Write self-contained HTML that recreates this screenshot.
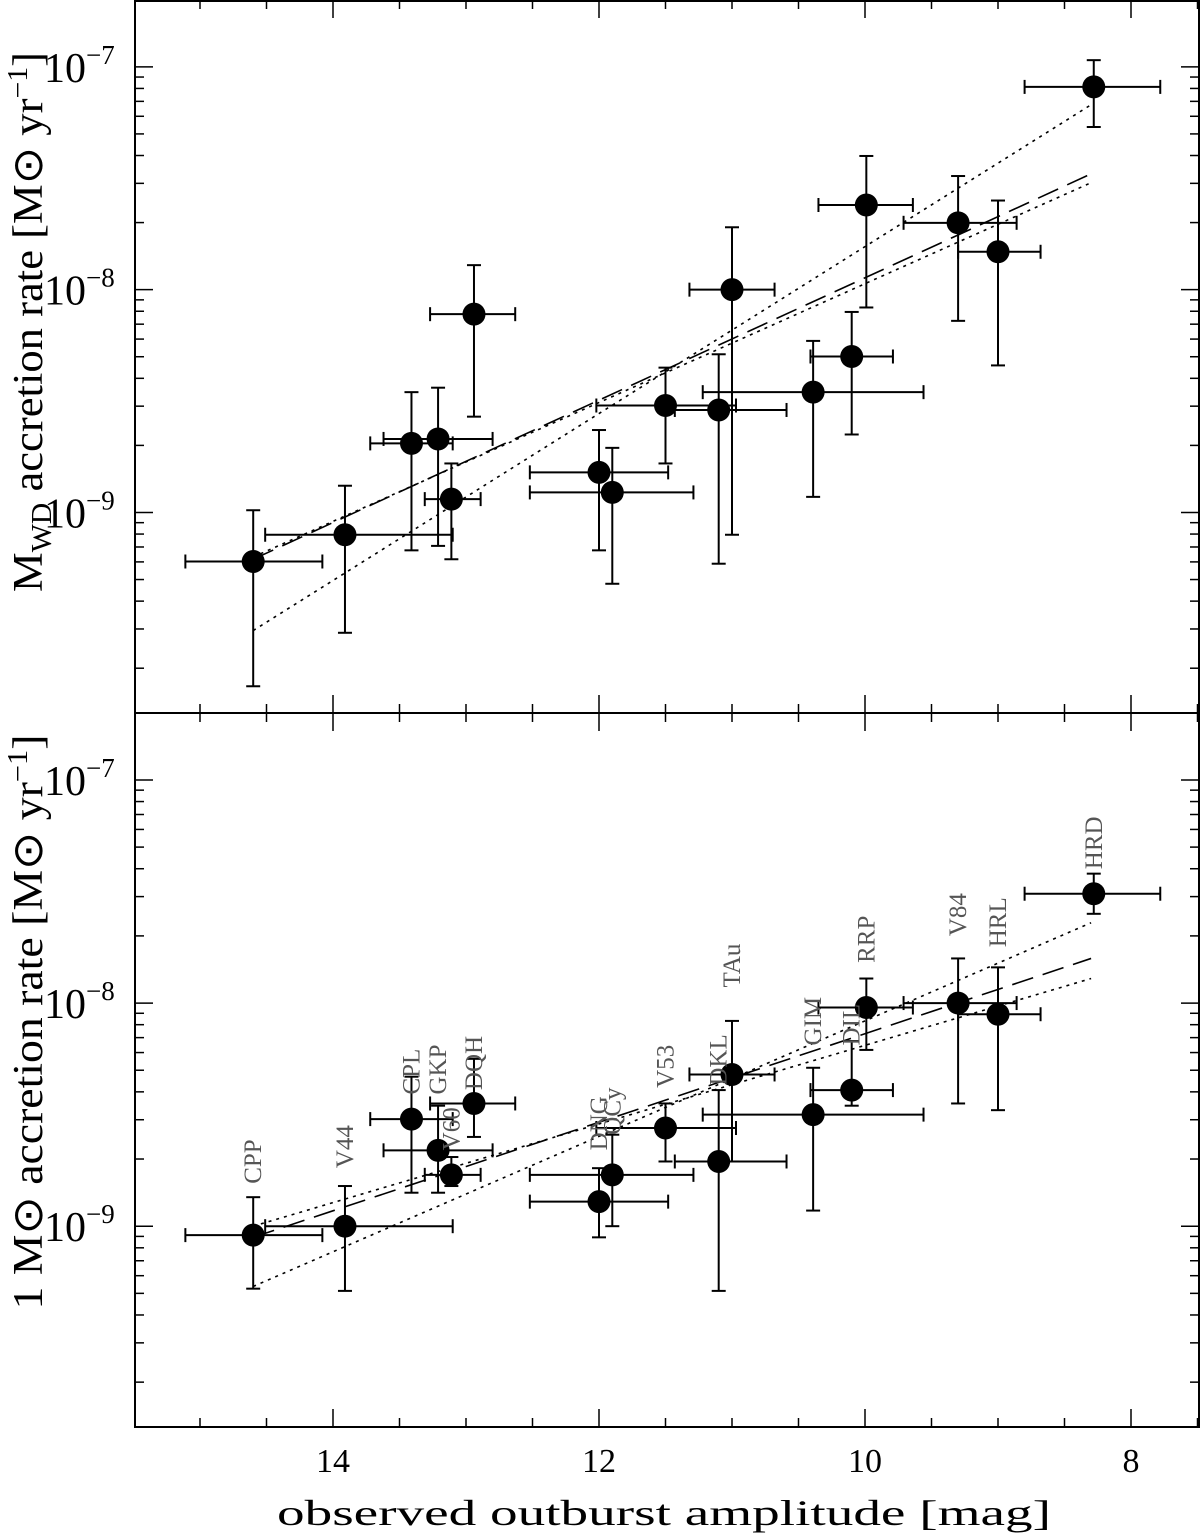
<!DOCTYPE html>
<html><head><meta charset="utf-8"><style>
html,body{margin:0;padding:0;background:#fff}
svg{display:block}
text{font-family:"Liberation Serif",serif}
</style></head><body>
<svg id="chart" width="1200" height="1537" viewBox="0 0 1200 1537" xmlns="http://www.w3.org/2000/svg"></svg>
<script>
// ---- data ----
const magTop=[14.6,13.91,13.41,13.21,13.11,12.94,12.0,11.9,11.5,11.1,11.0,10.39,10.1,9.99,9.3,9.0,8.28];
const magLo=[15.11,14.51,13.72,13.62,13.31,13.27,12.52,12.52,12.02,11.43,11.32,11.22,10.41,10.35,9.71,9.3,8.8];
const magHi=[14.08,13.10,13.10,12.80,12.89,12.63,11.48,11.29,10.97,10.59,10.68,9.56,9.79,9.64,8.86,8.68,7.78];
const logTop=[-9.22,-9.10,-8.69,-8.67,-8.94,-8.11,-8.82,-8.91,-8.52,-8.54,-8.00,-8.46,-8.30,-7.62,-7.70,-7.83,-7.09];
const logTopUp=[-8.99,-8.88,-8.46,-8.44,-8.78,-7.89,-8.63,-8.71,-8.35,-8.29,-7.72,-8.23,-8.10,-7.40,-7.49,-7.60,-6.97];
const logTopDn=[-9.78,-9.54,-9.17,-9.15,-9.21,-8.57,-9.17,-9.32,-8.78,-9.23,-9.10,-8.93,-8.65,-8.08,-8.14,-8.34,-7.27];
const names=["CPP","V44","CPL","GKP","V60","DQH","DNG","QCy","V53","DKL","TAu","GIM","DIL","RRP","V84","HRL","HRD"];
const magBot=[14.6,13.91,13.41,13.21,13.11,12.94,12.0,11.9,11.5,11.1,11.0,10.39,10.1,9.99,9.3,9.0,8.28];
const logBot=[-9.04,-9.00,-8.52,-8.66,-8.77,-8.45,-8.89,-8.77,-8.56,-8.71,-8.32,-8.50,-8.39,-8.02,-8.00,-8.05,-7.51];
const logBotUp=[-8.87,-8.82,-8.33,-8.46,-8.69,-8.25,-8.74,-8.59,-8.45,-8.39,-8.08,-8.29,-8.17,-7.89,-7.80,-7.84,-7.42];
const logBotDn=[-9.28,-9.29,-8.85,-8.85,-8.82,-8.60,-9.05,-9.00,-8.71,-9.29,-8.71,-8.93,-8.46,-8.21,-8.45,-8.48,-7.60];
const labelLog=[-8.81,-8.74,-8.41,-8.41,-8.66,-8.39,-8.66,-8.59,-8.38,-8.37,-7.93,-8.19,-8.19,-7.82,-7.70,-7.75,-7.40];
const fitX=[14.6,8.3];
const topDash=[-9.21,-7.48], topDot1=[-9.53,-7.17], topDot2=[-9.20,-7.52];
const botDash=[-9.05,-7.80], botDot1=[-9.27,-7.64], botDot2=[-9.00,-7.89];
const xTickLabels=[14,12,10,8];
const yTickExp=[-7,-8,-9];
// ---- axes ----
const X0=135,X1=1199;
function xs(m){return 1131+(8-m)*133;}
const panels=[{top:0,bot:713},{top:713,bot:1427}];
function ys(p,l){const P=panels[p];return P.top+(-6.7-l)/3.2*(P.bot-P.top);}
const svg=document.getElementById('chart');
const NS='http://www.w3.org/2000/svg';
function el(t,a,parent){const e=document.createElementNS(NS,t);for(const k in a)e.setAttribute(k,a[k]);(parent||svg).appendChild(e);return e;}
function line(x1,y1,x2,y2,extra){return el('line',Object.assign({x1,y1,x2,y2,stroke:'#000','stroke-width':2},extra||{}));}

let f=el('rect',{x:X0,y:1,width:X1-X0,height:1426,fill:'none',stroke:'#000','stroke-width':2});

let dv=line(X0,713,X1,713);


for(let p=0;p<2;p++){
  const P=panels[p];
  for(let m=15;m>=7.5;m-=0.5){
    const x=xs(m);if(x<X0||x>X1)continue;
    const major=(m%2===0);const L=major?18:9;
    let t1=line(x,P.top,x,P.top+L,{'stroke-width':1.5});
    
    let t2=line(x,P.bot,x,P.bot-L,{'stroke-width':1.5});
    
  }
  for(let d=-10;d<=-7;d++){
    for(let k=1;k<=9;k++){
      const l=d+Math.log10(k);const y=ys(p,l);
      if(y<P.top+2||y>P.bot-2)continue;
      const L=k===1?18:9;
      let t=line(X0,y,X0+L,y,{'stroke-width':1.5});
      
      let t2=line(X1,y,X1-L,y,{'stroke-width':1.5});
      
    }
  }
  yTickExp.forEach(e=>{
    const y=ys(p,e);
    const t=el('text',{x:44,y:y+15,'font-size':42,fill:'#000'});
    
    t.textContent='10';
    const s=el('tspan',{dy:-18,'font-size':27},t);s.textContent='\u2212'+(-e);
  });
}
xTickLabels.forEach(v=>{
  const t=el('text',{x:xs(v),y:1472,'font-size':34,'text-anchor':'middle'});
  
  t.textContent=v;
});
let xt=el('text',{x:664,y:1525,'font-size':36,'text-anchor':'middle',textLength:774,lengthAdjust:'spacingAndGlyphs'});

xt.textContent='observed outburst amplitude [mag]';
let yt1=el('text',{x:0,y:0,'font-size':42,'text-anchor':'middle',textLength:540,lengthAdjust:'spacingAndGlyphs',transform:'translate(42,322) rotate(-90)'});

yt1.innerHTML='M<tspan font-size="28" dy="9">WD</tspan><tspan dy="-9"> accretion rate [M\u2299 yr</tspan><tspan font-size="28" dy="-15">\u22121</tspan><tspan dy="15">]</tspan>';
let yt2=el('text',{x:0,y:0,'font-size':42,'text-anchor':'middle',textLength:575,lengthAdjust:'spacingAndGlyphs',transform:'translate(42,1022) rotate(-90)'});

yt2.innerHTML='1 M\u2299 accretion rate [M\u2299 yr<tspan font-size="28" dy="-15">\u22121</tspan><tspan dy="15">]</tspan>';

function fit(p,arr,dash,name){
  const l=line(xs(fitX[0]),ys(p,arr[0]),xs(fitX[1]),ys(p,arr[1]),{'stroke-width':1.6,'stroke-dasharray':dash});
  
}
fit(0,topDash,'22,10','fit-dashed-top');fit(0,topDot1,'3,5','fit-dotted-top-1');fit(0,topDot2,'3,5','fit-dotted-top-2');
fit(1,botDash,'22,10','fit-dashed-bottom');fit(1,botDot1,'3,5','fit-dotted-bottom-1');fit(1,botDot2,'3,5','fit-dotted-bottom-2');

function pts(p,mag,lg,up,dn,tag){
  for(let i=0;i<mag.length;i++){
    const g=el('g',{});
    
    
    const x=xs(mag[i]),y=ys(p,lg[i]),xa=xs(magLo[i]),xb=xs(magHi[i]),ya=ys(p,up[i]),yb=ys(p,dn[i]);
    el('line',{x1:xa,y1:y,x2:xb,y2:y,stroke:'#000','stroke-width':2},g);
    el('line',{x1:xa,y1:y-7,x2:xa,y2:y+7,stroke:'#000','stroke-width':2},g);
    el('line',{x1:xb,y1:y-7,x2:xb,y2:y+7,stroke:'#000','stroke-width':2},g);
    el('line',{x1:x,y1:ya,x2:x,y2:yb,stroke:'#000','stroke-width':2},g);
    el('line',{x1:x-7,y1:ya,x2:x+7,y2:ya,stroke:'#000','stroke-width':2},g);
    el('line',{x1:x-7,y1:yb,x2:x+7,y2:yb,stroke:'#000','stroke-width':2},g);
    el('circle',{cx:x,cy:y,r:11.5,fill:'#000'},g);
  }
}
pts(0,magTop,logTop,logTopUp,logTopDn,'top');
pts(1,magBot,logBot,logBotUp,logBotDn,'bottom');
for(let i=0;i<names.length;i++){
  const x=xs(magBot[i])+8,y=ys(1,labelLog[i]);
  const t=el('text',{x:0,y:0,'font-size':25,fill:'#555',transform:'translate('+x+','+y+') rotate(-90)'});
  
  
  t.textContent=names[i];
}
</script>
</body></html>
